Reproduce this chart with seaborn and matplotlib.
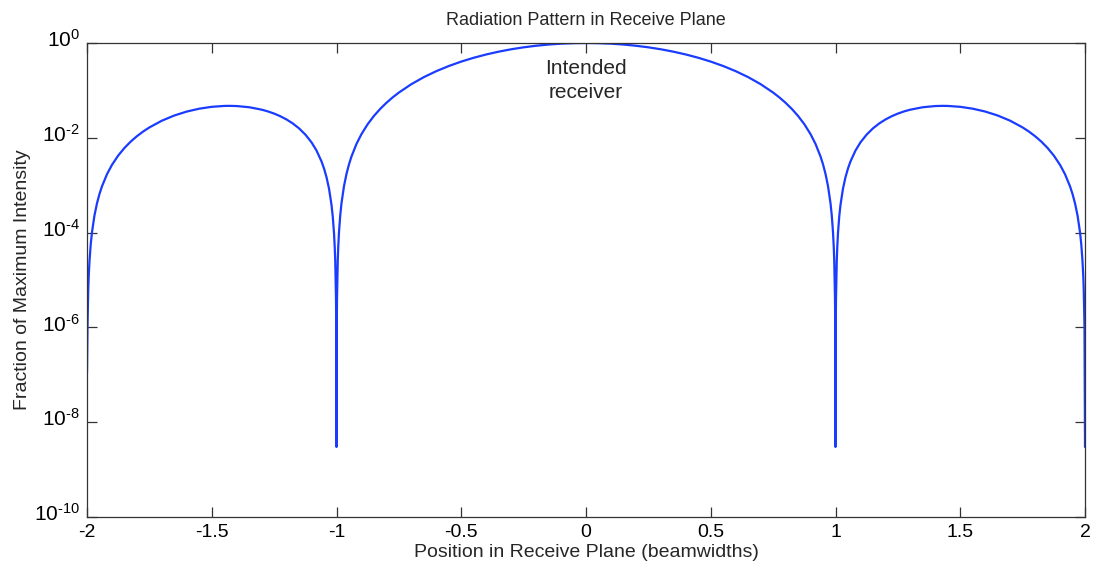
import matplotlib
matplotlib.use("Agg")
import matplotlib.pyplot as plt
import seaborn as sns
import pandas as pd
from matplotlib.ticker import FixedLocator, NullLocator
from matplotlib.transforms import ScaledTranslation

# Values (position in beamwidths, fraction of max intensity)
position = [
    -2.0, -1.998, -1.995, -1.993, -1.99, -1.985, -1.98, -1.97, -1.96, -1.95, -1.94,
    -1.92, -1.9, -1.875, -1.85, -1.825, -1.8, -1.775, -1.75, -1.7, -1.65, -1.6,
    -1.55, -1.5, -1.45, -1.43, -1.4, -1.35, -1.3, -1.275, -1.25, -1.225, -1.2,
    -1.175, -1.15, -1.125, -1.1, -1.08, -1.06, -1.05, -1.04, -1.03, -1.02, -1.015,
    -1.01, -1.007, -1.005, -1.002, -1.001, -1.0, -0.999, -0.998, -0.995, -0.993,
    -0.99, -0.985, -0.98, -0.97, -0.96, -0.95, -0.94, -0.92, -0.9, -0.875, -0.85,
    -0.825, -0.8, -0.775, -0.75, -0.7, -0.65, -0.6, -0.55, -0.5, -0.45, -0.4,
    -0.35, -0.3, -0.25, -0.2, -0.15, -0.1, -0.05, 0.0,
    0.05, 0.1, 0.15, 0.2, 0.25, 0.3, 0.35, 0.4, 0.45, 0.5, 0.55, 0.6, 0.65, 0.7,
    0.75, 0.775, 0.8, 0.825, 0.85, 0.875, 0.9, 0.92, 0.94, 0.95, 0.96, 0.97, 0.98,
    0.985, 0.99, 0.993, 0.995, 0.998, 0.999, 1.0, 1.001, 1.002, 1.005, 1.007, 1.01,
    1.015, 1.02, 1.03, 1.04, 1.05, 1.06, 1.08, 1.1, 1.125, 1.15, 1.175, 1.2, 1.225,
    1.25, 1.275, 1.3, 1.35, 1.4, 1.43, 1.45, 1.5, 1.55, 1.6, 1.65, 1.7, 1.75, 1.775,
    1.8, 1.825, 1.85, 1.875, 1.9, 1.92, 1.94, 1.95, 1.96, 1.97, 1.98, 1.985, 1.99,
    1.993, 1.995, 1.998, 2.0,
]
intensity = [
    1.1e-7, 1.0e-6, 6.3e-6, 1.23e-5, 2.5e-5, 5.71e-5, 1.02e-4, 2.31e-4, 4.14e-4,
    6.52e-4, 9.45e-4, 1.70e-3, 2.68e-3, 4.22e-3, 6.10e-3, 8.31e-3, 1.080e-2,
    1.356e-2, 1.654e-2, 2.295e-2, 2.955e-2, 3.580e-2, 4.114e-2, 4.503e-2, 4.701e-2,
    4.719e-2, 4.676e-2, 4.414e-2, 3.924e-2, 3.604e-2, 3.242e-2, 2.848e-2, 2.431e-2,
    2.004e-2, 1.579e-2, 1.172e-2, 8.00e-3, 5.373e-3, 3.166e-3, 2.249e-3, 1.471e-3,
    8.46e-4, 3.84e-4, 2.182e-4, 9.80e-5, 4.83e-5, 2.48e-5, 4.0e-6, 1.0e-6, 3.0e-9,
    1.0e-6, 4.0e-6, 2.53e-5, 4.97e-5, 1.02e-4, 2.317e-4, 4.16e-4, 9.54e-4, 1.727e-3,
    2.747e-3, 4.026e-3, 7.404e-3, 1.1945e-2, 1.938e-2, 2.890e-2, 4.064e-2, 5.470e-2,
    7.115e-2, 9.007e-2, 0.1353, 0.1904, 0.2546, 0.3267, 0.4053, 0.4881, 0.5728,
    0.6567, 0.7368, 0.8106, 0.8751, 0.9281, 0.9675, 0.9918, 1.0,
    0.9918, 0.9675, 0.9281, 0.8751, 0.8106, 0.7368, 0.6567, 0.5728, 0.4881, 0.4053,
    0.3267, 0.2546, 0.1904, 0.1353, 9.007e-2, 7.115e-2, 5.470e-2, 4.064e-2,
    2.890e-2, 1.938e-2, 1.1945e-2, 7.404e-3, 4.026e-3, 2.747e-3, 1.727e-3, 9.54e-4,
    4.16e-4, 2.317e-4, 1.02e-4, 4.97e-5, 2.53e-5, 4.0e-6, 1.0e-6, 3.0e-9, 1.0e-6,
    4.0e-6, 2.48e-5, 4.83e-5, 9.80e-5, 2.182e-4, 3.84e-4, 8.46e-4, 1.471e-3,
    2.249e-3, 3.166e-3, 5.373e-3, 8.00e-3, 1.172e-2, 1.579e-2, 2.004e-2, 2.431e-2,
    2.848e-2, 3.242e-2, 3.604e-2, 3.924e-2, 4.414e-2, 4.676e-2, 4.719e-2, 4.701e-2,
    4.503e-2, 4.114e-2, 3.580e-2, 2.955e-2, 2.295e-2, 1.654e-2, 1.356e-2, 1.080e-2,
    8.31e-3, 6.10e-3, 4.22e-3, 2.68e-3, 1.70e-3, 9.45e-4, 6.52e-4, 4.14e-4, 2.31e-4,
    1.02e-4, 5.71e-5, 2.5e-5, 1.23e-5, 6.3e-6, 1.0e-6, 3.0e-9,
]
x_ticks = [-2, -1.5, -1, -0.5, 0, 0.5, 1, 1.5, 2]
x_tick_labels = ["-2", "-1.5", "-1", "-0.5", "0", "0.5", "1", "1.5", "2"]
y_ticks = [1e0, 1e-2, 1e-4, 1e-6, 1e-8, 1e-10]
y_tick_labels = [r"$10^{\text{0}}$", r"$10^{\text{-2}}$", r"$10^{\text{-4}}$",
                 r"$10^{\text{-6}}$", r"$10^{\text{-8}}$", r"$10^{\text{-10}}$"]

df = pd.DataFrame({"position": position, "intensity": intensity})

sns.set_style("white")
plt.rcParams["font.family"] = ["Liberation Sans", "DejaVu Sans"]
plt.rcParams["mathtext.fontset"] = "custom"
plt.rcParams["mathtext.rm"] = "Liberation Sans"
plt.rcParams["mathtext.it"] = "Liberation Sans"
plt.rcParams["mathtext.default"] = "regular"

fig = plt.figure(figsize=(10.93, 5.71), dpi=100)
ax = fig.add_axes([87 / 1093, 1 - 517 / 571, (1085 - 87) / 1093, (517 - 43) / 571])

sns.lineplot(data=df, x="position", y="intensity", ax=ax, color="#1a3cff",
             linewidth=1.6, estimator=None, sort=False)

ax.set_yscale("log")
ax.set_xlim(-2, 2)
ax.set_ylim(1e-10, 1e0)
ax.xaxis.set_major_locator(FixedLocator(x_ticks))
ax.xaxis.set_minor_locator(NullLocator())
ax.set_xticklabels(x_tick_labels)
ax.yaxis.set_major_locator(FixedLocator(y_ticks))
ax.yaxis.set_minor_locator(NullLocator())
ax.set_yticklabels(y_tick_labels)

ax.tick_params(axis="both", which="major", direction="in", length=7, width=0.9,
               colors="#333333", labelcolor="black",
               top=True, right=True, bottom=True, left=True)
ax.tick_params(axis="x", labelsize=14, pad=5)
ax.tick_params(axis="y", labelsize=15, pad=5)
for s in ax.spines.values():
    s.set_color("#333333")
    s.set_linewidth(0.9)

shift_up = ScaledTranslation(0, 5 / 100, fig.dpi_scale_trans)
for lab in ax.get_yticklabels():
    lab.set_transform(lab.get_transform() + shift_up)

ax.set_xlabel("Position in Receive Plane (beamwidths)", fontsize=14, labelpad=2)
ax.set_ylabel("Fraction of Maximum Intensity", fontsize=14, labelpad=2)
ax.set_title("Radiation Pattern in Receive Plane", fontsize=13, pad=13)

ax.text(0.0, 0.16, "Intended\nreceiver", ha="center", va="center",
        fontsize=15, linespacing=1.35)

fig.savefig("out.png", dpi=100)
